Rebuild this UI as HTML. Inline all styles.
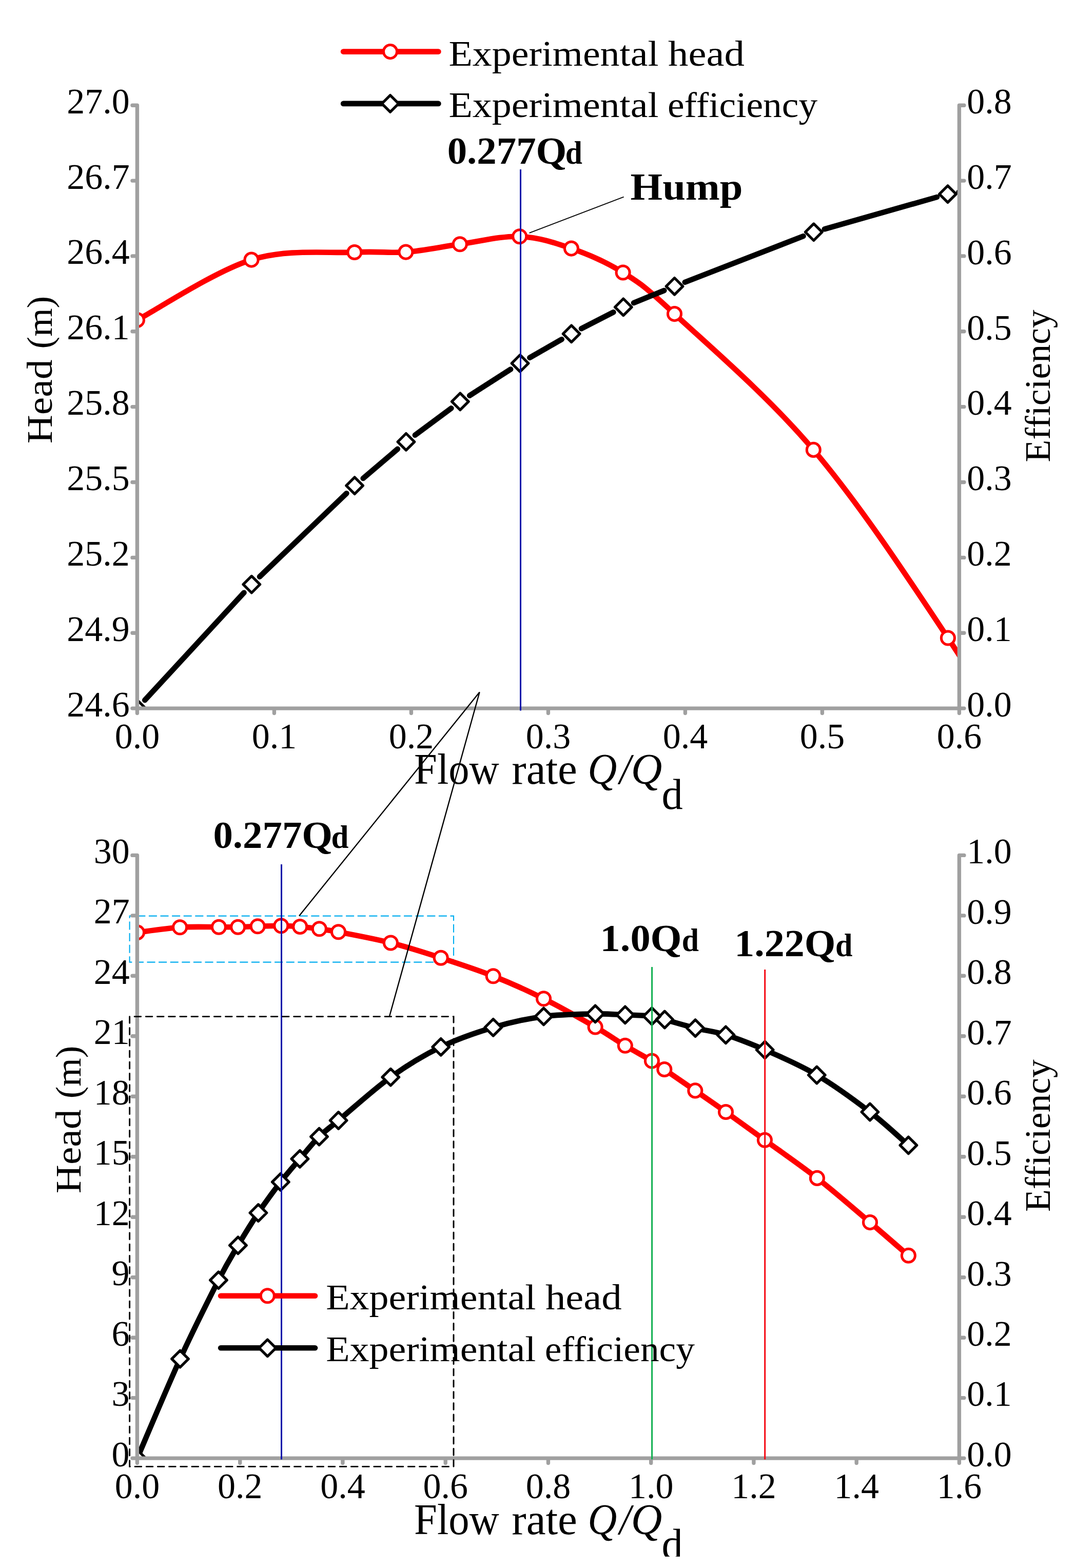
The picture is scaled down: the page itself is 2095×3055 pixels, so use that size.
<!DOCTYPE html>
<html lang="en"><head><meta charset="utf-8"><title>Head and efficiency versus flow rate</title>
<style>html,body{margin:0;padding:0;background:#fff}body{width:2095px;height:3055px;overflow:hidden}svg{display:block}text{font-family:'Liberation Serif', 'DejaVu Serif', serif;fill:#000}</style>
</head><body>
<svg width="2095" height="3055" viewBox="0 0 2095 3055">
<rect width="2095" height="3055" fill="#fff"/>
<defs>
<clipPath id="ct"><rect x="267.4" y="175.2" width="1602" height="1204.9"/></clipPath>
<clipPath id="cb"><rect x="267.4" y="1636.4" width="1602" height="1204.7"/></clipPath>
</defs>
<path d="M252.6 1784.6V1874.6H884V1784.6Z" fill="none" stroke="#00adef" stroke-width="2.1" stroke-dasharray="16 6.6" stroke-dashoffset="-10.9"/>
<g clip-path="url(#ct)">
<path d="M267.4 623.5C304.5 603.9 419.4 528.1 490 506.1C560.6 484.1 640.8 494 690.9 491.5C741 489 756.7 493.7 790.9 491.1C825.1 488.5 859.3 480.9 896.3 475.8C933.3 470.8 976.5 459.4 1012.7 460.8C1048.9 462.2 1079.8 472.4 1113.4 484.1C1147 495.8 1180.6 509.8 1214.1 531C1247.6 552.2 1252.6 554 1314.5 611.6C1376.4 669.2 1496.5 771.2 1585.3 876.4C1674.1 981.6 1758.7 1109.3 1847.4 1243C1936.1 1376.7 2072.6 1606.2 2117.6 1678.8" fill="none" stroke="#ff0000" stroke-width="10.6" stroke-linejoin="round"/>
<g fill="#fff" stroke="#ff0000" stroke-width="5"><circle cx="267.4" cy="623.5" r="13.05"/><circle cx="490" cy="506.1" r="13.05"/><circle cx="690.9" cy="491.5" r="13.05"/><circle cx="790.9" cy="491.1" r="13.05"/><circle cx="896.3" cy="475.8" r="13.05"/><circle cx="1012.7" cy="460.8" r="13.05"/><circle cx="1113.4" cy="484.1" r="13.05"/><circle cx="1214.1" cy="531" r="13.05"/><circle cx="1314.5" cy="611.6" r="13.05"/><circle cx="1585.3" cy="876.4" r="13.05"/><circle cx="1847.4" cy="1243" r="13.05"/></g>
<path d="M282.2 1364.1L475.5 1154.7M506 1123.6L675.4 961.2M707.7 932L774.8 874.9M808.9 847.8L879.3 795.4M915.2 770.7L995.1 719.5M1032.4 696.9L1094.7 661.2M1133 640.3L1195.4 608.3M1235 590.1L1294.3 566M1334.8 549.9L1565.5 460.1M1606.8 446.3L1826 384M1868.5 374.4L2096.1 334.6" fill="none" stroke="#000" stroke-width="10.6" stroke-linecap="round" stroke-linejoin="round"/>
<path d="M267.4 1363.8L283.7 1380.1L267.4 1396.4L251.1 1380.1ZM490.3 1122.4L506.6 1138.7L490.3 1155L474 1138.7ZM691.1 929.8L707.4 946.1L691.1 962.4L674.8 946.1ZM791.4 844.5L807.7 860.8L791.4 877.1L775.1 860.8ZM896.8 766.1L913.1 782.4L896.8 798.7L880.5 782.4ZM1013.5 691.5L1029.8 707.8L1013.5 724.1L997.2 707.8ZM1113.6 634L1129.9 650.3L1113.6 666.6L1097.3 650.3ZM1214.8 582L1231.1 598.3L1214.8 614.6L1198.5 598.3ZM1314.5 541.5L1330.8 557.8L1314.5 574.1L1298.2 557.8ZM1585.8 435.9L1602.1 452.2L1585.8 468.5L1569.5 452.2ZM1847 361.8L1863.3 378.1L1847 394.4L1830.7 378.1Z" fill="#fff" stroke="#000" stroke-width="5.2" stroke-linejoin="round"/>
</g>
<g clip-path="url(#cb)">
<path d="M267.5 1816.8C281.4 1815.1 324.1 1808.6 350.6 1806.8C377.1 1805 407.5 1806.3 426.4 1806.2C445.2 1806.1 451.1 1806.4 463.7 1806.2C476.3 1806 488.2 1805.2 502.2 1804.8C516.2 1804.4 534 1803.7 547.8 1803.8C561.5 1803.9 572.3 1804.5 584.7 1805.5C597.1 1806.5 609.8 1808.1 622.3 1809.8C634.8 1811.5 636.3 1811.3 659.5 1815.8C682.7 1820.3 728.1 1828.6 761.4 1837C794.7 1845.4 825.9 1855.5 859.2 1866.3C892.5 1877.1 927.8 1888.5 961.2 1901.7C994.6 1914.9 1026.3 1929.2 1059.5 1945.7C1092.7 1962.2 1133.6 1985.6 1160.1 2000.9C1186.6 2016.2 1199.9 2026.3 1218.3 2037.3C1236.7 2048.3 1257.7 2059.3 1270.4 2067C1283.2 2074.7 1280.7 2073.8 1294.8 2083.5C1308.9 2093.2 1334.8 2111.1 1354.8 2124.9C1374.8 2138.7 1391.9 2150.4 1414.5 2166.5C1437.1 2182.6 1460.8 2199.7 1490.4 2221.2C1520.1 2242.7 1558.2 2268.7 1592.4 2295.4C1626.6 2322.1 1665.8 2356.4 1695.5 2381.6C1725.2 2406.8 1757.9 2435.5 1770.4 2446.3" fill="none" stroke="#ff0000" stroke-width="10.6" stroke-linejoin="round"/>
<g fill="#fff" stroke="#ff0000" stroke-width="5"><circle cx="267.5" cy="1816.8" r="13.05"/><circle cx="350.6" cy="1806.8" r="13.05"/><circle cx="426.4" cy="1806.2" r="13.05"/><circle cx="463.7" cy="1806.2" r="13.05"/><circle cx="502.2" cy="1804.8" r="13.05"/><circle cx="547.8" cy="1803.8" r="13.05"/><circle cx="584.7" cy="1805.5" r="13.05"/><circle cx="622.3" cy="1809.8" r="13.05"/><circle cx="659.5" cy="1815.8" r="13.05"/><circle cx="761.4" cy="1837" r="13.05"/><circle cx="859.2" cy="1866.3" r="13.05"/><circle cx="961.2" cy="1901.7" r="13.05"/><circle cx="1059.5" cy="1945.7" r="13.05"/><circle cx="1160.1" cy="2000.9" r="13.05"/><circle cx="1218.3" cy="2037.3" r="13.05"/><circle cx="1270.4" cy="2067" r="13.05"/><circle cx="1294.8" cy="2083.5" r="13.05"/><circle cx="1354.8" cy="2124.9" r="13.05"/><circle cx="1414.5" cy="2166.5" r="13.05"/><circle cx="1490.4" cy="2221.2" r="13.05"/><circle cx="1592.4" cy="2295.4" r="13.05"/><circle cx="1695.5" cy="2381.6" r="13.05"/><circle cx="1770.4" cy="2446.3" r="13.05"/></g>
<path d="M267.5 2841.1C281.4 2808.8 324.6 2705.4 351 2647.6C377.4 2589.8 407.1 2531.1 425.9 2494.2C444.7 2457.3 451 2448.3 463.9 2426.4C476.8 2404.5 489.6 2383.6 503.4 2363C517.2 2342.4 533.3 2320.4 546.8 2302.9C560.3 2285.4 571.9 2272.6 584.4 2257.9C596.9 2243.2 609.5 2227.1 622 2214.6C634.5 2202.1 636.4 2202.3 659.6 2183C682.8 2163.7 728 2122.6 761.3 2098.7C794.6 2074.8 825.9 2055.9 859.2 2039.8C892.5 2023.7 927.8 2011.7 961.2 2001.8C994.6 1991.9 1026.3 1984.8 1059.5 1980.4C1092.7 1976 1133.6 1975.9 1160.1 1975.4C1186.6 1974.9 1199.9 1976.6 1218.3 1977.3C1236.7 1978 1257.6 1978.3 1270.4 1979.8C1283.2 1981.3 1281.2 1982.6 1295.3 1986.5C1309.4 1990.4 1335.2 1998.1 1355.1 2003.1C1374.9 2008.1 1391.8 2009.2 1414.4 2016.3C1437 2023.4 1461.1 2032.5 1490.7 2045.5C1520.3 2058.5 1557.7 2074.3 1591.8 2094.5C1625.9 2114.7 1665.6 2143.7 1695.4 2166.5C1725.2 2189.3 1757.9 2220.6 1770.4 2231.4" fill="none" stroke="#000" stroke-width="10.6" stroke-linejoin="round"/>
<path d="M267.5 2824.8L283.8 2841.1L267.5 2857.4L251.2 2841.1ZM351 2631.3L367.3 2647.6L351 2663.9L334.7 2647.6ZM425.9 2477.9L442.2 2494.2L425.9 2510.5L409.6 2494.2ZM463.9 2410.1L480.2 2426.4L463.9 2442.7L447.6 2426.4ZM503.4 2346.7L519.7 2363L503.4 2379.3L487.1 2363ZM546.8 2286.6L563.1 2302.9L546.8 2319.2L530.5 2302.9ZM584.4 2241.6L600.7 2257.9L584.4 2274.2L568.1 2257.9ZM622 2198.3L638.3 2214.6L622 2230.9L605.7 2214.6ZM659.6 2166.7L675.9 2183L659.6 2199.3L643.3 2183ZM761.3 2082.4L777.6 2098.7L761.3 2115L745 2098.7ZM859.2 2023.5L875.5 2039.8L859.2 2056.1L842.9 2039.8ZM961.2 1985.5L977.5 2001.8L961.2 2018.1L944.9 2001.8ZM1059.5 1964.1L1075.8 1980.4L1059.5 1996.7L1043.2 1980.4ZM1160.1 1959.1L1176.4 1975.4L1160.1 1991.7L1143.8 1975.4ZM1218.3 1961L1234.6 1977.3L1218.3 1993.6L1202 1977.3ZM1270.4 1963.5L1286.7 1979.8L1270.4 1996.1L1254.1 1979.8ZM1295.3 1970.2L1311.6 1986.5L1295.3 2002.8L1279 1986.5ZM1355.1 1986.8L1371.4 2003.1L1355.1 2019.4L1338.8 2003.1ZM1414.4 2000L1430.7 2016.3L1414.4 2032.6L1398.1 2016.3ZM1490.7 2029.2L1507 2045.5L1490.7 2061.8L1474.4 2045.5ZM1591.8 2078.2L1608.1 2094.5L1591.8 2110.8L1575.5 2094.5ZM1695.4 2150.2L1711.7 2166.5L1695.4 2182.8L1679.1 2166.5ZM1770.4 2215.1L1786.7 2231.4L1770.4 2247.7L1754.1 2231.4Z" fill="#fff" stroke="#000" stroke-width="5.2" stroke-linejoin="round"/>
</g>
<path d="M267.4 205.2V1389.6M1869.4 205.2V1389.6M257.9 1380.1H1878.9M257.9 205.2H267.4M1869.4 205.2H1878.9M257.9 352.1H267.4M1869.4 352.1H1878.9M257.9 498.9H267.4M1869.4 498.9H1878.9M257.9 645.8H267.4M1869.4 645.8H1878.9M257.9 792.6H267.4M1869.4 792.6H1878.9M257.9 939.5H267.4M1869.4 939.5H1878.9M257.9 1086.4H267.4M1869.4 1086.4H1878.9M257.9 1233.2H267.4M1869.4 1233.2H1878.9M534.4 1380.1V1389.6M801.4 1380.1V1389.6M1068.4 1380.1V1389.6M1335.4 1380.1V1389.6M1602.4 1380.1V1389.6" fill="none" stroke="#a0a0a0" stroke-width="7.4" stroke-linecap="round"/>
<path d="M267.4 1666.4V2850.6M1869.4 1666.4V2850.6M257.9 2841.1H1878.9M257.9 1666.4H267.4M1869.4 1666.4H1878.9M257.9 1783.9H267.4M1869.4 1783.9H1878.9M257.9 1901.3H267.4M1869.4 1901.3H1878.9M257.9 2018.8H267.4M1869.4 2018.8H1878.9M257.9 2136.3H267.4M1869.4 2136.3H1878.9M257.9 2253.8H267.4M1869.4 2253.8H1878.9M257.9 2371.2H267.4M1869.4 2371.2H1878.9M257.9 2488.7H267.4M1869.4 2488.7H1878.9M257.9 2606.2H267.4M1869.4 2606.2H1878.9M257.9 2723.6H267.4M1869.4 2723.6H1878.9M467.7 2841.1V2850.6M667.9 2841.1V2850.6M868.2 2841.1V2850.6M1068.4 2841.1V2850.6M1268.7 2841.1V2850.6M1468.9 2841.1V2850.6M1669.2 2841.1V2850.6" fill="none" stroke="#a0a0a0" stroke-width="7.4" stroke-linecap="round"/>
<g fill="none">
<path d="M1014.5 330V1384.5M548.5 1684V2843.5" stroke="#0012aa" stroke-width="3"/>
<path d="M1270.6 1884V2843.5" stroke="#10b050" stroke-width="3"/>
<path d="M1490.7 1889V2843.5" stroke="#f50a14" stroke-width="3"/>
<path d="M1031.6 453.9L1215.6 383.7" stroke="#000" stroke-width="1.8"/>
<path d="M583 1784.5L934.6 1348.5L759 1980" stroke="#000" stroke-width="2.4" stroke-linejoin="miter"/>
<path d="M252.6 1980.6V2857.4H884V1980.6Z" stroke="#000" stroke-width="2.9" stroke-dasharray="12.66 9.52" stroke-linecap="round"/>
</g>
<path d="M669.1 100.6H854.4" stroke="#ff0000" stroke-width="10.6" stroke-linecap="round"/><circle cx="760.5" cy="100.6" r="13.05" fill="#fff" stroke="#ff0000" stroke-width="5"/><path d="M669.1 201.9H854.4" stroke="#000" stroke-width="10.6" stroke-linecap="round"/><path d="M760.5 185.6L776.8 201.9L760.5 218.2L744.2 201.9Z" fill="#fff" stroke="#000" stroke-width="5.2" stroke-linejoin="round"/><text><tspan x="874.4" y="127.7" font-size="70" textLength="409.1" lengthAdjust="spacingAndGlyphs">Experimental</tspan> <tspan x="1302.1" y="127.7" font-size="70" textLength="148.7" lengthAdjust="spacingAndGlyphs">head</tspan></text><text><tspan x="874.4" y="228.2" font-size="70" textLength="409.1" lengthAdjust="spacingAndGlyphs">Experimental</tspan> <tspan x="1301" y="228.2" font-size="70" textLength="292.1" lengthAdjust="spacingAndGlyphs">efficiency</tspan></text>
<path d="M430.1 2524.7H614" stroke="#ff0000" stroke-width="10.6" stroke-linecap="round"/><circle cx="521.3" cy="2524.7" r="13.05" fill="#fff" stroke="#ff0000" stroke-width="5"/><path d="M430.1 2626.3H614" stroke="#000" stroke-width="10.6" stroke-linecap="round"/><path d="M521.3 2610L537.6 2626.3L521.3 2642.6L505 2626.3Z" fill="#fff" stroke="#000" stroke-width="5.2" stroke-linejoin="round"/><text><tspan x="635.2" y="2550.6" font-size="70" textLength="409.1" lengthAdjust="spacingAndGlyphs">Experimental</tspan> <tspan x="1062.9" y="2550.6" font-size="70" textLength="148.7" lengthAdjust="spacingAndGlyphs">head</tspan></text><text><tspan x="635.2" y="2652.2" font-size="70" textLength="409.1" lengthAdjust="spacingAndGlyphs">Experimental</tspan> <tspan x="1061.8" y="2652.2" font-size="70" textLength="292.1" lengthAdjust="spacingAndGlyphs">efficiency</tspan></text>
<g>
<text x="130.3" y="220.7" font-size="69" textLength="122.3" lengthAdjust="spacingAndGlyphs">27.0</text><text x="130.3" y="367.6" font-size="69" textLength="122.3" lengthAdjust="spacingAndGlyphs">26.7</text><text x="130.3" y="514.4" font-size="69" textLength="122.3" lengthAdjust="spacingAndGlyphs">26.4</text><text x="130.3" y="661.3" font-size="69" textLength="122.3" lengthAdjust="spacingAndGlyphs">26.1</text><text x="130.3" y="808.1" font-size="69" textLength="122.3" lengthAdjust="spacingAndGlyphs">25.8</text><text x="130.3" y="955" font-size="69" textLength="122.3" lengthAdjust="spacingAndGlyphs">25.5</text><text x="130.3" y="1101.9" font-size="69" textLength="122.3" lengthAdjust="spacingAndGlyphs">25.2</text><text x="130.3" y="1248.7" font-size="69" textLength="122.3" lengthAdjust="spacingAndGlyphs">24.9</text><text x="130.3" y="1395.6" font-size="69" textLength="122.3" lengthAdjust="spacingAndGlyphs">24.6</text>
<text x="1884.3" y="221" font-size="69" textLength="87.4" lengthAdjust="spacingAndGlyphs">0.8</text><text x="1884.3" y="367.9" font-size="69" textLength="87.4" lengthAdjust="spacingAndGlyphs">0.7</text><text x="1884.3" y="514.7" font-size="69" textLength="87.4" lengthAdjust="spacingAndGlyphs">0.6</text><text x="1884.3" y="661.6" font-size="69" textLength="87.4" lengthAdjust="spacingAndGlyphs">0.5</text><text x="1884.3" y="808.4" font-size="69" textLength="87.4" lengthAdjust="spacingAndGlyphs">0.4</text><text x="1884.3" y="955.3" font-size="69" textLength="87.4" lengthAdjust="spacingAndGlyphs">0.3</text><text x="1884.3" y="1102.2" font-size="69" textLength="87.4" lengthAdjust="spacingAndGlyphs">0.2</text><text x="1884.3" y="1249" font-size="69" textLength="87.4" lengthAdjust="spacingAndGlyphs">0.1</text><text x="1884.3" y="1395.9" font-size="69" textLength="87.4" lengthAdjust="spacingAndGlyphs">0.0</text>
<text x="223.8" y="1457.8" font-size="69" textLength="87.4" lengthAdjust="spacingAndGlyphs">0.0</text><text x="490.8" y="1457.8" font-size="69" textLength="87.4" lengthAdjust="spacingAndGlyphs">0.1</text><text x="757.7" y="1457.8" font-size="69" textLength="87.4" lengthAdjust="spacingAndGlyphs">0.2</text><text x="1024.7" y="1457.8" font-size="69" textLength="87.4" lengthAdjust="spacingAndGlyphs">0.3</text><text x="1291.7" y="1457.8" font-size="69" textLength="87.4" lengthAdjust="spacingAndGlyphs">0.4</text><text x="1558.7" y="1457.8" font-size="69" textLength="87.4" lengthAdjust="spacingAndGlyphs">0.5</text><text x="1825.7" y="1457.8" font-size="69" textLength="87.4" lengthAdjust="spacingAndGlyphs">0.6</text>
<text x="182.7" y="1681.9" font-size="69" textLength="69.9" lengthAdjust="spacingAndGlyphs">30</text><text x="182.7" y="1799.4" font-size="69" textLength="69.9" lengthAdjust="spacingAndGlyphs">27</text><text x="182.7" y="1916.8" font-size="69" textLength="69.9" lengthAdjust="spacingAndGlyphs">24</text><text x="182.7" y="2034.3" font-size="69" textLength="69.9" lengthAdjust="spacingAndGlyphs">21</text><text x="182.7" y="2151.8" font-size="69" textLength="69.9" lengthAdjust="spacingAndGlyphs">18</text><text x="182.7" y="2269.2" font-size="69" textLength="69.9" lengthAdjust="spacingAndGlyphs">15</text><text x="182.7" y="2386.7" font-size="69" textLength="69.9" lengthAdjust="spacingAndGlyphs">12</text><text x="217.6" y="2504.2" font-size="69" textLength="35" lengthAdjust="spacingAndGlyphs">9</text><text x="217.6" y="2621.7" font-size="69" textLength="35" lengthAdjust="spacingAndGlyphs">6</text><text x="217.6" y="2739.1" font-size="69" textLength="35" lengthAdjust="spacingAndGlyphs">3</text><text x="217.6" y="2856.6" font-size="69" textLength="35" lengthAdjust="spacingAndGlyphs">0</text>
<text x="1884.3" y="1682.2" font-size="69" textLength="87.4" lengthAdjust="spacingAndGlyphs">1.0</text><text x="1884.3" y="1799.7" font-size="69" textLength="87.4" lengthAdjust="spacingAndGlyphs">0.9</text><text x="1884.3" y="1917.1" font-size="69" textLength="87.4" lengthAdjust="spacingAndGlyphs">0.8</text><text x="1884.3" y="2034.6" font-size="69" textLength="87.4" lengthAdjust="spacingAndGlyphs">0.7</text><text x="1884.3" y="2152.1" font-size="69" textLength="87.4" lengthAdjust="spacingAndGlyphs">0.6</text><text x="1884.3" y="2269.6" font-size="69" textLength="87.4" lengthAdjust="spacingAndGlyphs">0.5</text><text x="1884.3" y="2387" font-size="69" textLength="87.4" lengthAdjust="spacingAndGlyphs">0.4</text><text x="1884.3" y="2504.5" font-size="69" textLength="87.4" lengthAdjust="spacingAndGlyphs">0.3</text><text x="1884.3" y="2622" font-size="69" textLength="87.4" lengthAdjust="spacingAndGlyphs">0.2</text><text x="1884.3" y="2739.4" font-size="69" textLength="87.4" lengthAdjust="spacingAndGlyphs">0.1</text><text x="1884.3" y="2856.9" font-size="69" textLength="87.4" lengthAdjust="spacingAndGlyphs">0.0</text>
<text x="223.8" y="2918.9" font-size="69" textLength="87.4" lengthAdjust="spacingAndGlyphs">0.0</text><text x="424" y="2918.9" font-size="69" textLength="87.4" lengthAdjust="spacingAndGlyphs">0.2</text><text x="624.2" y="2918.9" font-size="69" textLength="87.4" lengthAdjust="spacingAndGlyphs">0.4</text><text x="824.5" y="2918.9" font-size="69" textLength="87.4" lengthAdjust="spacingAndGlyphs">0.6</text><text x="1024.7" y="2918.9" font-size="69" textLength="87.4" lengthAdjust="spacingAndGlyphs">0.8</text><text x="1225" y="2918.9" font-size="69" textLength="87.4" lengthAdjust="spacingAndGlyphs">1.0</text><text x="1425.2" y="2918.9" font-size="69" textLength="87.4" lengthAdjust="spacingAndGlyphs">1.2</text><text x="1625.5" y="2918.9" font-size="69" textLength="87.4" lengthAdjust="spacingAndGlyphs">1.4</text><text x="1825.7" y="2918.9" font-size="69" textLength="87.4" lengthAdjust="spacingAndGlyphs">1.6</text>
</g>
<text><tspan x="807.1" y="1527.3" font-size="85" textLength="165.6" lengthAdjust="spacingAndGlyphs">Flow</tspan> <tspan x="997.3" y="1527.3" font-size="85" textLength="127.6" lengthAdjust="spacingAndGlyphs">rate</tspan> <tspan x="1145.5" y="1527.3" font-size="85" textLength="56.8" lengthAdjust="spacingAndGlyphs" font-style="italic">Q</tspan><tspan x="1207.2" y="1527.3" font-size="85" textLength="22" lengthAdjust="spacingAndGlyphs" font-style="italic">/</tspan><tspan x="1229.7" y="1527.3" font-size="85" textLength="60.6" lengthAdjust="spacingAndGlyphs" font-style="italic">Q</tspan><tspan x="1289.6" y="1575.6" font-size="85" textLength="41.2" lengthAdjust="spacingAndGlyphs">d</tspan></text>
<text><tspan x="807.1" y="2988.9" font-size="85" textLength="165.6" lengthAdjust="spacingAndGlyphs">Flow</tspan> <tspan x="997.3" y="2988.9" font-size="85" textLength="127.6" lengthAdjust="spacingAndGlyphs">rate</tspan> <tspan x="1145.5" y="2988.9" font-size="85" textLength="56.8" lengthAdjust="spacingAndGlyphs" font-style="italic">Q</tspan><tspan x="1207.2" y="2988.9" font-size="85" textLength="22" lengthAdjust="spacingAndGlyphs" font-style="italic">/</tspan><tspan x="1229.7" y="2988.9" font-size="85" textLength="60.6" lengthAdjust="spacingAndGlyphs" font-style="italic">Q</tspan><tspan x="1289.6" y="3037.2" font-size="85" textLength="41.2" lengthAdjust="spacingAndGlyphs">d</tspan></text>
<text transform="rotate(-90 100.7 863.1)"><tspan x="99.5" y="863.1" font-size="70" textLength="163.9" lengthAdjust="spacingAndGlyphs">Head</tspan> <tspan x="284.4" y="863.1" font-size="70" textLength="102.6" lengthAdjust="spacingAndGlyphs">(m)</tspan></text>
<text transform="rotate(-90 156.6 2324)"><tspan x="155.4" y="2324" font-size="70" textLength="163.9" lengthAdjust="spacingAndGlyphs">Head</tspan> <tspan x="340.3" y="2324" font-size="70" textLength="102.6" lengthAdjust="spacingAndGlyphs">(m)</tspan></text>
<text x="2046" y="900.4" font-size="70" textLength="297.1" lengthAdjust="spacingAndGlyphs" transform="rotate(-90 2046 900.4)">Efficiency</text>
<text x="2046" y="2360.9" font-size="70" textLength="296.8" lengthAdjust="spacingAndGlyphs" transform="rotate(-90 2046 2360.9)">Efficiency</text>
<rect x="0" y="3032.8" width="2095" height="23" fill="#fff"/>
<text><tspan x="871.7" y="319.3" font-size="74" textLength="232.7" lengthAdjust="spacingAndGlyphs" font-weight="bold">0.277Q</tspan><tspan x="1101.8" y="319.3" font-size="64" textLength="33.1" lengthAdjust="spacingAndGlyphs" font-weight="bold">d</tspan></text>
<text><tspan x="415.4" y="1651.5" font-size="74" textLength="232.7" lengthAdjust="spacingAndGlyphs" font-weight="bold">0.277Q</tspan><tspan x="645.5" y="1651.5" font-size="64" textLength="33.9" lengthAdjust="spacingAndGlyphs" font-weight="bold">d</tspan></text>
<text><tspan x="1169.6" y="1853.3" font-size="74" textLength="159" lengthAdjust="spacingAndGlyphs" font-weight="bold">1.0Q</tspan><tspan x="1328.7" y="1853.3" font-size="64" textLength="33.2" lengthAdjust="spacingAndGlyphs" font-weight="bold">d</tspan></text>
<text><tspan x="1431.2" y="1863.2" font-size="74" textLength="197.1" lengthAdjust="spacingAndGlyphs" font-weight="bold">1.22Q</tspan><tspan x="1627.9" y="1863.2" font-size="64" textLength="33.4" lengthAdjust="spacingAndGlyphs" font-weight="bold">d</tspan></text>
<text x="1228.6" y="388.9" font-size="75" textLength="219" lengthAdjust="spacingAndGlyphs" font-weight="bold">Hump</text>
</svg>
</body></html>
